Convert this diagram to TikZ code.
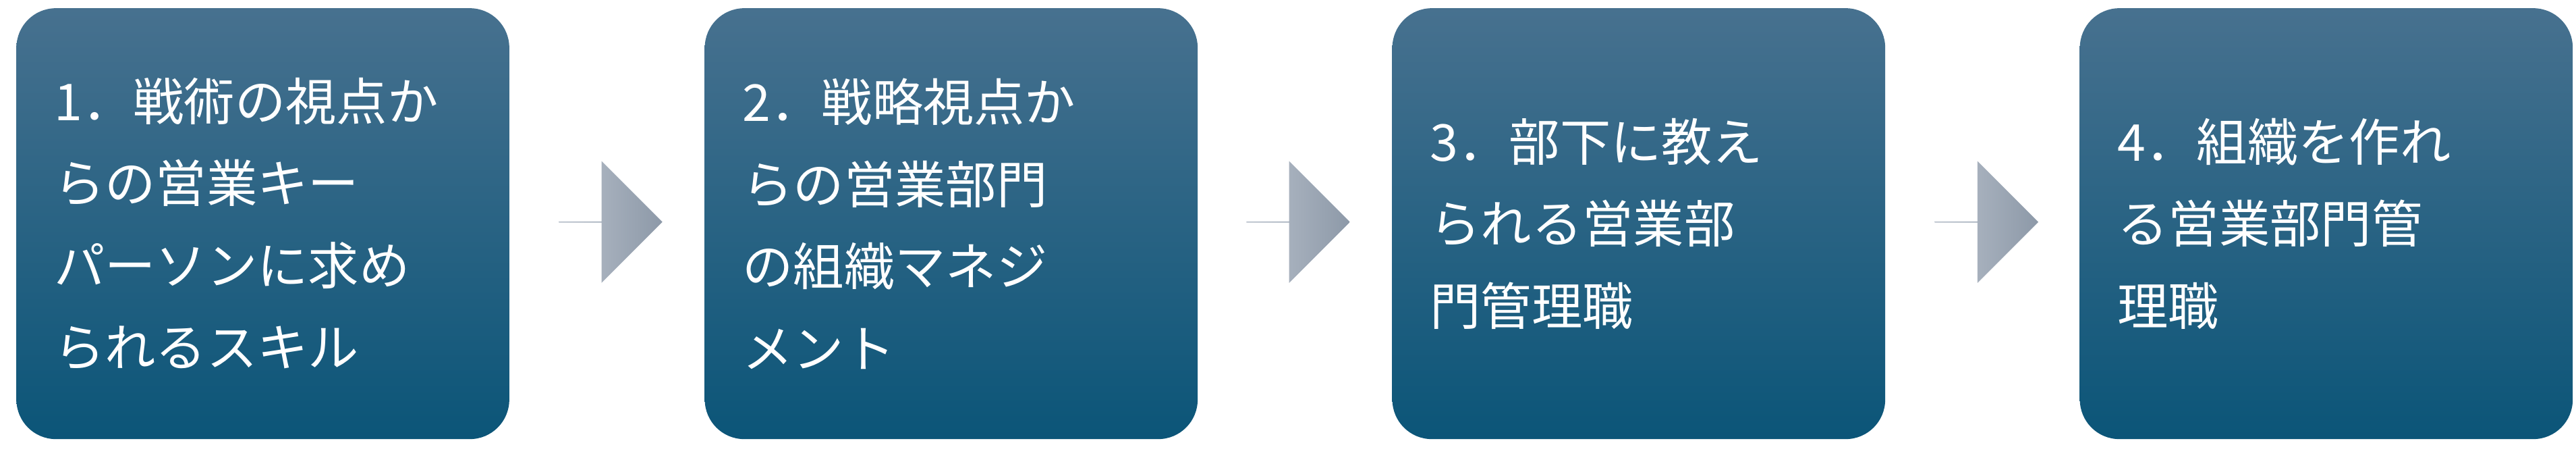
\documentclass[tikz,border=0pt]{standalone}
\usepackage{fontspec}
\newfontfamily\jpfont{Noto Sans CJK JP}
\usetikzlibrary{shapes.arrows}
\definecolor{boxtop}{HTML}{47718F}
\definecolor{boxbot}{HTML}{0B5578}
\definecolor{arrl}{HTML}{B8C0CB}
\definecolor{arrr}{HTML}{8D99A8}

\begin{document}
\begin{tikzpicture}[x=0.5mm, y=-0.5mm]
    % Styles
    \tikzset{stepbox/.style={rectangle, rounded corners=12mm, top color=boxtop, bottom color=boxbot,
        minimum width=150mm, minimum height=131mm, text width=127mm, align=left,
        text=white, font=\jpfont\fontsize{44}{71}\selectfont, inner sep=0pt}}
    \tikzset{flow/.style={single arrow, left color=arrl, right color=arrr, inner sep=0pt,
        minimum width=37mm, minimum height=31.5mm, single arrow head extend=7mm, shape border rotate=0}}
    \useasboundingbox (0,0) rectangle (1568,282);

    % Boxes
    \node (s1) at (160,136) [stepbox] {1．戦術の視点か\\らの営業キー\\パーソンに求め\\られるスキル};
    \node (s2) at (579,136) [stepbox] {2．戦略視点か\\らの営業部門\\の組織マネジ\\メント};
    \node (s3) at (997.5,136) [stepbox] {3．部下に教え\\られる営業部\\門管理職};
    \node (s4) at (1416,136) [stepbox] {4．組織を作れ\\る営業部門管\\理職};

    % Arrows
    \node (a1) at (371.5,135) [flow] {};
    \node (a2) at (790,135) [flow] {};
    \node (a3) at (1209,135) [flow] {};
\end{tikzpicture}
\end{document}
